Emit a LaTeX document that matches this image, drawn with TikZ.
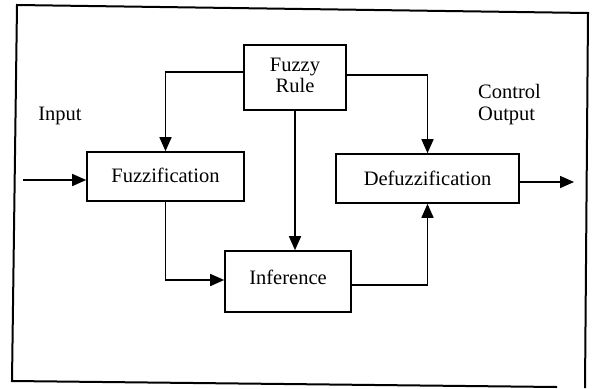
\documentclass[tikz,border=0pt]{standalone}
\usepackage{fontspec}
\setmainfont{Liberation Serif}
\usetikzlibrary{arrows.meta}
\tikzset{
  blk/.style={draw, line width=1.6pt, minimum width=#1, inner sep=0pt, font=\fontsize{20.5}{22}\selectfont, align=center},
  arr/.style={line width=1.6pt, -{Triangle[length=14pt,width=12pt]}},
  lbl/.style={font=\fontsize{20.5}{22}\selectfont, inner sep=0pt},
  frame/.style={line width=2pt}
}
\begin{document}
\begin{tikzpicture}[x=1pt,y=-1pt]
\useasboundingbox (0,0) rectangle (596,388);
% outer frame
\draw[frame] (557,387) -- (12,381) -- (17,5) -- (588,13) -- (585,388);
% blocks
\node[blk=102pt, minimum height=65pt] (rule) at (295,77.5) {\raisebox{-5pt}{\begin{tabular}{@{}c@{}}Fuzzy\\[-1pt]Rule\end{tabular}}};
\node[blk=157pt, minimum height=49pt] (fuzz) at (165.5,176.5) {\raisebox{2pt}{Fuzzification}};
\node[blk=183pt, minimum height=49pt] (defuzz) at (427.5,178.5) {Defuzzification};
\node[blk=126pt, minimum height=61pt] (infer) at (288,281.5) {\raisebox{7.5pt}{Inference}};
% labels
\node[lbl] (inlbl) at (60,116) {Input};
\node[lbl, anchor=west, align=left] (outlbl) at (478,105) {Control\\[0pt]Output};
% free ends
\coordinate (in) at (23,180);
\coordinate (out) at (574,182);
% connectors
\draw[arr] ([yshift=5.5pt]rule.west) -| (fuzz.north);
\draw[arr] ([yshift=2.5pt]rule.east) -| (defuzz.north);
\draw[arr] (rule.south) -- (rule.south |- infer.north);
\draw[arr] (fuzz.south) |- ([yshift=1.5pt]infer.west);
\draw[arr] ([yshift=-3.5pt]infer.east) -| (defuzz.south);
\draw[arr] (in) -- (in -| fuzz.west);
\draw[arr] (out -| defuzz.east) -- (out);
\end{tikzpicture}
\end{document}
